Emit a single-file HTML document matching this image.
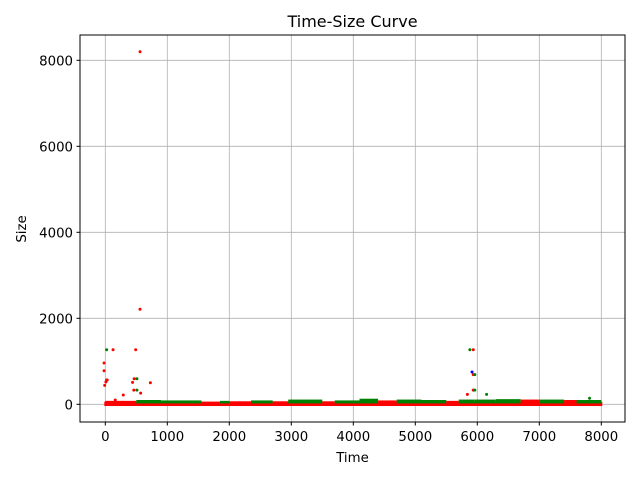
<!DOCTYPE html>
<html><head><meta charset="utf-8"><style>
body{margin:0;background:#fff;font-family:"DejaVu Sans","Liberation Sans",sans-serif;}
</style></head><body>
<svg id="chart" width="640" height="480" xmlns="http://www.w3.org/2000/svg" font-family="DejaVu Sans, Liberation Sans, sans-serif">
<rect width="640" height="480" fill="#fff"/>
<g id="grid"></g><g id="marks"></g><g id="axes"></g>
</svg>
<script>
const xTicks=[0,1000,2000,3000,4000,5000,6000,7000,8000];
const yTicks=[0,2000,4000,6000,8000];
// outlier points
const ptTime=[-20,-20,-10,10,22,22,30,125,490,510,465,440,460,510,727,560,560,290,570,160,5880,5935,5915,5935,5960,5840,5935,5960,6150,7810];
const ptSize=[960,780,440,520,1270,565,565,1270,1270,595,595,510,330,330,500,2210,8200,215,260,100,1270,1270,750,690,690,230,330,330,230,140];
const ptColor=['red','red','red','red','green','green','red','red','red','green','red','red','red','green','red','red','red','red','red','red','green','red','blue','red','green','red','red','green','green','green'];
// dense band segments
const segStart=[0,500,900,1550,1850,2000,2350,2700,2950,3500,3700,4100,4400,4700,5100,5500,5700,5950,6300,6700,7000,7400,7600];
const segEnd=[500,900,1550,1850,2000,2350,2700,2950,3500,3700,4100,4400,4700,5100,5500,5700,5950,6300,6700,7000,7400,7600,8000];
const segColor=['red','green','green','red','green','red','green','red','green','red','green','green','red','green','green','red','green','green','green','red','green','red','green'];
const segTop=[80,100,90,60,80,70,90,70,110,70,90,130,90,110,100,80,110,110,120,110,110,100,100];

const X0=80,X1=625,Y0=35,Y1=422;
const sx=t=>105.3+t*0.062;
const sy=v=>404.3-v*0.043;
const NS="http://www.w3.org/2000/svg";
function mk(tag,attrs,parent){const e=document.createElementNS(NS,tag);for(const k in attrs)e.setAttribute(k,attrs[k]);parent.appendChild(e);return e;}
const grid=document.getElementById('grid'),marks=document.getElementById('marks'),axes=document.getElementById('axes');
xTicks.forEach(t=>{const l=mk('line',{x1:sx(t),x2:sx(t),y1:Y0,y2:Y1,stroke:'#b0b0b0','stroke-width':0.8},grid);

});
yTicks.forEach(v=>{const l=mk('line',{x1:X0,x2:X1,y1:sy(v),y2:sy(v),stroke:'#b0b0b0','stroke-width':0.8},grid);

});
const base=mk('rect',{x:sx(0)-1,y:sy(60),width:sx(8000)-sx(0)+2,height:sy(-40)-sy(60),fill:'red'},marks);


segStart.forEach((s,i)=>{const r=mk('rect',{x:sx(s),y:sy(segTop[i]),width:sx(segEnd[i])-sx(s),height:sy(20)-sy(segTop[i]),fill:segColor[i]==='green'?'green':'red'},marks);

});
ptTime.forEach((t,i)=>{const c=mk('circle',{cx:sx(t),cy:sy(ptSize[i]),r:1.5,fill:ptColor[i]},marks);

});
const frame=mk('rect',{x:X0,y:Y0,width:X1-X0,height:Y1-Y0,fill:'none',stroke:'#000','stroke-width':1},axes);


xTicks.forEach(t=>{mk('line',{x1:sx(t),x2:sx(t),y1:Y1,y2:Y1+3.5,stroke:'#000'},axes);
const tx=mk('text',{x:sx(t),y:Y1+19,'text-anchor':'middle','font-size':13.3,fill:'#000'},axes);tx.textContent=t;

});
yTicks.forEach(v=>{mk('line',{x1:X0-3.5,x2:X0,y1:sy(v),y2:sy(v),stroke:'#000'},axes);
const tx=mk('text',{x:X0-7,y:sy(v)+5,'text-anchor':'end','font-size':13.3,fill:'#000'},axes);tx.textContent=v;

});
const title=mk('text',{x:(X0+X1)/2,y:27,'text-anchor':'middle','font-size':16,fill:'#000'},axes);title.textContent='Time-Size Curve';


const xl=mk('text',{x:(X0+X1)/2,y:462,'text-anchor':'middle','font-size':13.3,fill:'#000'},axes);xl.textContent='Time';


const yl=mk('text',{x:0,y:0,'text-anchor':'middle','font-size':13.3,fill:'#000',transform:'translate(26,229) rotate(-90)'},axes);yl.textContent='Size';


</script>
</body></html>
